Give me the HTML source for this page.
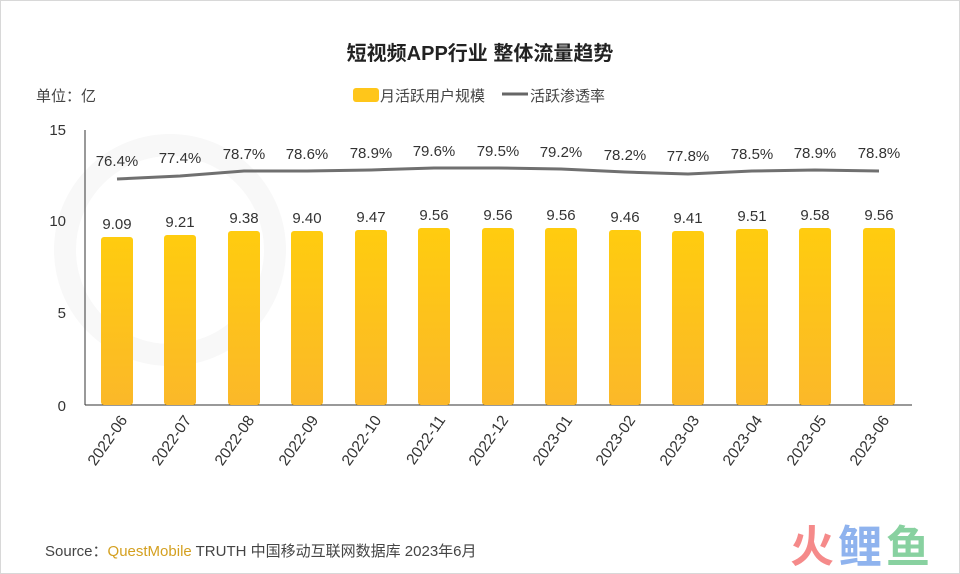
<!DOCTYPE html>
<html><head><meta charset="utf-8"><style>
body{margin:0;background:#fff}
svg{display:block}
text{font-family:"Liberation Sans","Noto Sans CJK SC",sans-serif}
</style></head><body>
<svg width="960" height="574" viewBox="0 0 960 574" xmlns="http://www.w3.org/2000/svg">
<defs>
<linearGradient id="g" x1="0" y1="0" x2="0" y2="1"><stop offset="0" stop-color="#FFCC0F"/><stop offset="1" stop-color="#FBB829"/></linearGradient>
</defs>
<rect x="0.5" y="0.5" width="959" height="573" fill="#fff" stroke="#d8d8d8"/>
<circle cx="170" cy="250" r="105" fill="none" stroke="#f8f8f8" stroke-width="22"/>
<text x="480" y="60" font-size="20" font-weight="bold" fill="#222" text-anchor="middle">短视频APP行业 整体流量趋势</text>
<text x="36" y="101" font-size="15" fill="#444">单位：亿</text>
<rect x="353" y="88" width="26" height="14" rx="3" fill="#FFC61A"/>
<text x="380" y="101" font-size="15" fill="#444">月活跃用户规模</text>
<line x1="502" y1="94" x2="528" y2="94" stroke="#666" stroke-width="3"/>
<text x="530" y="101" font-size="15" fill="#444">活跃渗透率</text>
<g font-size="15" fill="#333" text-anchor="end">
<text x="66" y="135">15</text><text x="66" y="226">10</text><text x="66" y="318">5</text><text x="66" y="411">0</text>
</g>
<line x1="85" y1="130" x2="85" y2="405" stroke="#333" stroke-width="1"/>
<line x1="85" y1="405" x2="912" y2="405" stroke="#333" stroke-width="1"/>
<polyline fill="none" stroke="#707070" stroke-width="3" points="117,179 180,176 244,171 307,171 371,170 434,168 498,168 561,169 625,172 688,174 752,171 815,170 879,171"/>
<g font-size="15" fill="#333" text-anchor="middle">
<text x="117" y="166">76.4%</text><text x="180" y="163">77.4%</text><text x="244" y="159">78.7%</text><text x="307" y="159">78.6%</text><text x="371" y="158">78.9%</text><text x="434" y="156">79.6%</text><text x="498" y="156">79.5%</text><text x="561" y="157">79.2%</text><text x="625" y="160">78.2%</text><text x="688" y="161">77.8%</text><text x="752" y="159">78.5%</text><text x="815" y="158">78.9%</text><text x="879" y="158">78.8%</text>
</g>
<g fill="url(#g)">
<rect x="101" y="237" width="32" height="168" rx="3"/><rect x="164" y="235" width="32" height="170" rx="3"/><rect x="228" y="231" width="32" height="174" rx="3"/><rect x="291" y="231" width="32" height="174" rx="3"/><rect x="355" y="230" width="32" height="175" rx="3"/><rect x="418" y="228" width="32" height="177" rx="3"/><rect x="482" y="228" width="32" height="177" rx="3"/><rect x="545" y="228" width="32" height="177" rx="3"/><rect x="609" y="230" width="32" height="175" rx="3"/><rect x="672" y="231" width="32" height="174" rx="3"/><rect x="736" y="229" width="32" height="176" rx="3"/><rect x="799" y="228" width="32" height="177" rx="3"/><rect x="863" y="228" width="32" height="177" rx="3"/>
</g>
<g font-size="15" fill="#333" text-anchor="middle">
<text x="117" y="229">9.09</text><text x="180" y="227">9.21</text><text x="244" y="223">9.38</text><text x="307" y="223">9.40</text><text x="371" y="222">9.47</text><text x="434" y="220">9.56</text><text x="498" y="220">9.56</text><text x="561" y="220">9.56</text><text x="625" y="222">9.46</text><text x="688" y="223">9.41</text><text x="752" y="221">9.51</text><text x="815" y="220">9.58</text><text x="879" y="220">9.56</text>
</g>
<g font-size="15.5" fill="#333" text-anchor="end">
<text transform="translate(128,420) rotate(-55)">2022-06</text>
<text transform="translate(192,420) rotate(-55)">2022-07</text>
<text transform="translate(255,420) rotate(-55)">2022-08</text>
<text transform="translate(319,420) rotate(-55)">2022-09</text>
<text transform="translate(382,420) rotate(-55)">2022-10</text>
<text transform="translate(446,420) rotate(-55)">2022-11</text>
<text transform="translate(509,420) rotate(-55)">2022-12</text>
<text transform="translate(573,420) rotate(-55)">2023-01</text>
<text transform="translate(636,420) rotate(-55)">2023-02</text>
<text transform="translate(700,420) rotate(-55)">2023-03</text>
<text transform="translate(763,420) rotate(-55)">2023-04</text>
<text transform="translate(827,420) rotate(-55)">2023-05</text>
<text transform="translate(890,420) rotate(-55)">2023-06</text>
</g>
<text x="45" y="556" font-size="15" fill="#444">Source：<tspan fill="#D4A020">QuestMobile</tspan> TRUTH 中国移动互联网数据库 2023年6月</text>
<text x="790" y="562" font-size="44" font-weight="bold" fill="#F58A8A">火</text>
<text x="838" y="562" font-size="44" font-weight="bold" fill="#8FB3EE">鲤</text>
<text x="886" y="562" font-size="44" font-weight="bold" fill="#88D1A0">鱼</text>
</svg>
</body></html>
